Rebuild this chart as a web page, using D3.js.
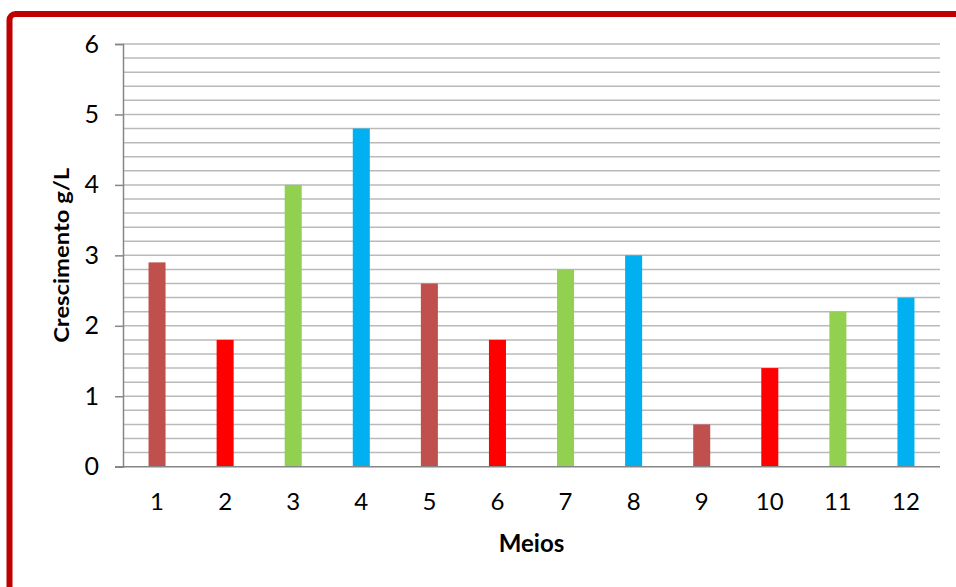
<!DOCTYPE html>
<html><head><meta charset="utf-8">
<script src="https://cdn.jsdelivr.net/npm/d3@7"></script>
<style>html,body{margin:0;padding:0;background:#fff;overflow:hidden}</style>
</head><body>
<svg id="c" width="956" height="587"></svg>
<script>
const categories = ["1","2","3","4","5","6","7","8","9","10","11","12"];
const values = [2.9, 1.8, 4.0, 4.8, 2.6, 1.8, 2.8, 3.0, 0.6, 1.4, 2.2, 2.4];
const barColors = ["#C0504D","#FF0000","#92D050","#00B0F0"];
const yTicks = [0,1,2,3,4,5,6];
const yTitle = "Crescimento g/L";
const xTitle = "Meios";

const svg = d3.select("#c");
const font = "Lato, 'Open Sans', sans-serif";
const m = {left:123, right:940, top:44, bottom:466.7};

// frame
svg.append("rect").attr("x",9.5).attr("y",14).attr("width",1000).attr("height",700)
  .attr("rx",6).attr("fill","none").attr("stroke","#C00000").attr("stroke-width",6);

const x = d3.scaleBand().domain(categories).range([m.left,m.right]).paddingInner(0.75).paddingOuter(0.375);
const y = d3.scaleLinear().domain([0,6]).range([m.bottom,m.top]);

// gridlines every 0.2
const minor = d3.range(0,31).map(i=>i*0.2).filter(v=>v>0.001);
svg.append("g").selectAll("line").data(minor).join("line")
  .attr("x1",m.left).attr("x2",m.right)
  .attr("y1",d=>y(d)).attr("y2",d=>y(d))
  .attr("stroke","#BABABA").attr("stroke-width",1.5);

// bars
svg.append("g").selectAll("rect").data(values).join("rect")
  .attr("x",(d,i)=>x(categories[i]))
  .attr("width",x.bandwidth())
  .attr("y",d=>y(d))
  .attr("height",d=>y(0)-y(d))
  .attr("fill",(d,i)=>barColors[i%4]);

// y axis
const ya = d3.axisLeft(y).tickValues(yTicks).tickSize(8).tickPadding(16).tickFormat(d3.format("d"));
const yg = svg.append("g").attr("transform",`translate(${m.left},0)`).call(ya);
yg.select(".domain").attr("stroke","#868686").attr("stroke-width",1.5);
yg.selectAll(".tick line").attr("stroke","#868686").attr("stroke-width",1.5);
yg.selectAll(".tick text").attr("font-family",font).attr("font-size",25).attr("fill","#000");

// x axis
const xa = d3.axisBottom(x).tickSize(0).tickPadding(26);
const xg = svg.append("g").attr("transform",`translate(0,${m.bottom})`).call(xa);
xg.select(".domain").remove();
xg.selectAll(".tick text").attr("font-family",font).attr("font-size",24).attr("fill","#000");
svg.append("line").attr("x1",m.left-8).attr("x2",m.right)
  .attr("y1",m.bottom).attr("y2",m.bottom).attr("stroke","#868686").attr("stroke-width",1.5);

// titles
svg.append("text").attr("x",(m.left+m.right)/2).attr("y",552)
  .attr("text-anchor","middle").attr("font-family",font).attr("font-weight","bold")
  .attr("font-size",24).text(xTitle);
svg.append("text").attr("transform",`translate(69,${(m.top+m.bottom)/2}) rotate(-90)`)
  .attr("text-anchor","middle").attr("font-family",font).attr("font-weight","bold")
  .attr("font-size",21).attr("textLength",175).attr("lengthAdjust","spacingAndGlyphs").text(yTitle);
</script>
</body></html>
